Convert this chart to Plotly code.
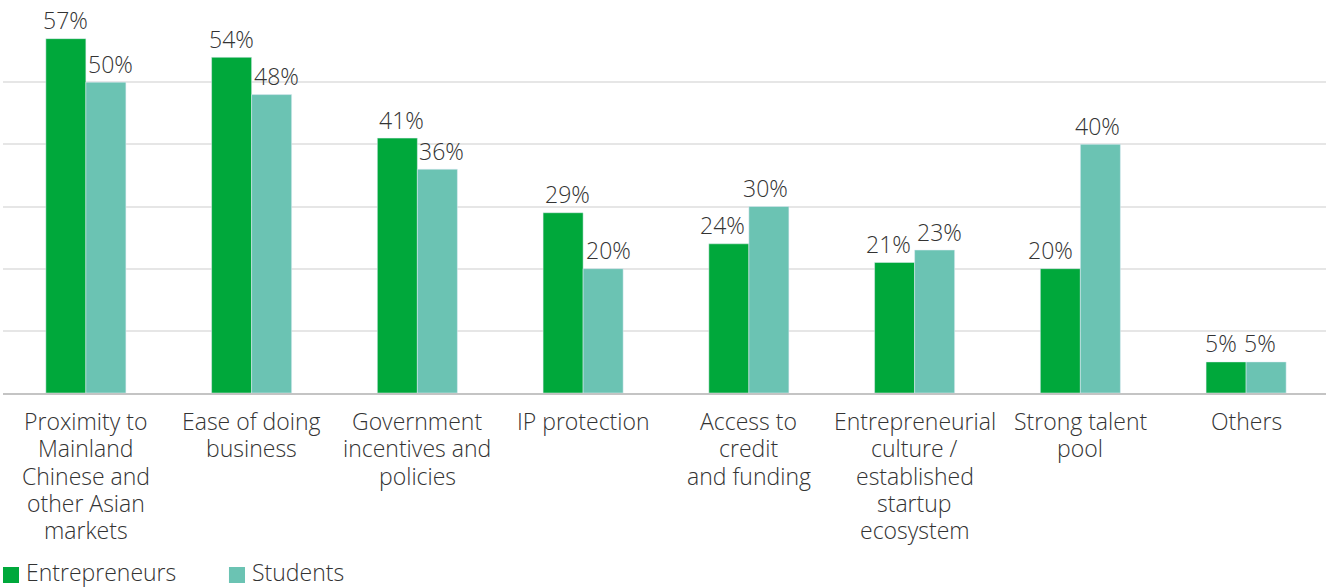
import plotly.graph_objects as go

categories = [
    "Proximity to<br>Mainland<br>Chinese and<br>other Asian<br>markets",
    "Ease of doing<br>business",
    "Government<br>incentives and<br>policies",
    "IP protection",
    "Access to<br>credit<br>and funding",
    "Entrepreneurial<br>culture /<br>established<br>startup<br>ecosystem",
    "Strong talent<br>pool",
    "Others",
]
entrepreneurs = [57, 54, 41, 29, 24, 21, 20, 5]
students = [50, 48, 36, 20, 30, 23, 40, 5]
series_names = ["Entrepreneurs", "Students"]

# horizontal nudges (px) for the value labels, per bar
label_dx_entrepreneurs = [0, 0, 4.5, 4.5, -6, -6.5, -10, -5]
label_dx_students = [5, 4.5, 4.5, 5, -3, 5, -2.5, -6]

GREEN = "#00A83B"
TEAL = "#6BC3B3"
TEXT = "#333333"
FONT = dict(family="Open Sans, sans-serif", size=23, color=TEXT, weight=300)

fig = go.Figure()
for name, vals, col in zip(series_names, [entrepreneurs, students], [GREEN, TEAL]):
    fig.add_trace(go.Bar(
        name=name, x=categories, y=vals,
        marker_color=col, showlegend=False,
    ))

annotations = []

# Value labels above each bar
HALF_BAR = 20
for vals, dxs, side in [(entrepreneurs, label_dx_entrepreneurs, -1),
                        (students, label_dx_students, 1)]:
    for cat, v, dx in zip(categories, vals, dxs):
        annotations.append(dict(
            x=cat, y=v, xref="x", yref="y", text=f"{v}%", showarrow=False,
            xanchor="center", yanchor="middle",
            xshift=side * HALF_BAR + dx, yshift=18.5, font=FONT,
        ))

# Category labels, one annotation per line for tighter line spacing
LINE_H = 27.3
for cat in categories:
    for i, line in enumerate(cat.split("<br>")):
        annotations.append(dict(
            x=cat, y=0, xref="x", yref="y", text=line, showarrow=False,
            xanchor="center", yanchor="middle", yshift=-(28 + i * LINE_H),
            font=FONT,
        ))

# Legend row beneath the chart: colour swatch + label
shapes = []
swatch_x = [0.0, 0.1708]
SW = 0.0121
for name, col, sx in zip(series_names, [GREEN, TEAL], swatch_x):
    shapes.append(dict(
        type="rect", xref="paper", yref="paper",
        x0=sx, x1=sx + SW, y0=-0.5094, y1=-0.4665,
        fillcolor=col, line_width=0,
    ))
    annotations.append(dict(
        x=sx + 0.016, y=-0.527, xref="paper", yref="paper", showarrow=False,
        xanchor="left", yanchor="bottom", text=name, font=FONT,
    ))

fig.update_layout(
    width=1326, height=588,
    margin=dict(l=3, r=0, t=20, b=195),
    paper_bgcolor="white", plot_bgcolor="white",
    font=FONT,
    barmode="group", bargap=0.517, bargroupgap=0,
    showlegend=False,
    annotations=annotations,
    shapes=shapes,
)
fig.update_xaxes(
    type="category", range=[-0.5, 7.482], automargin=False,
    showline=True, linecolor="#C4C4C4", linewidth=2,
    ticks="", showticklabels=False, showgrid=False, fixedrange=True,
)
fig.update_yaxes(
    range=[0, 60], dtick=10, showticklabels=False, automargin=False,
    showgrid=True, gridcolor="#E6E6E6", gridwidth=1.5,
    zeroline=False, fixedrange=True,
)

fig.write_html("out.html")
